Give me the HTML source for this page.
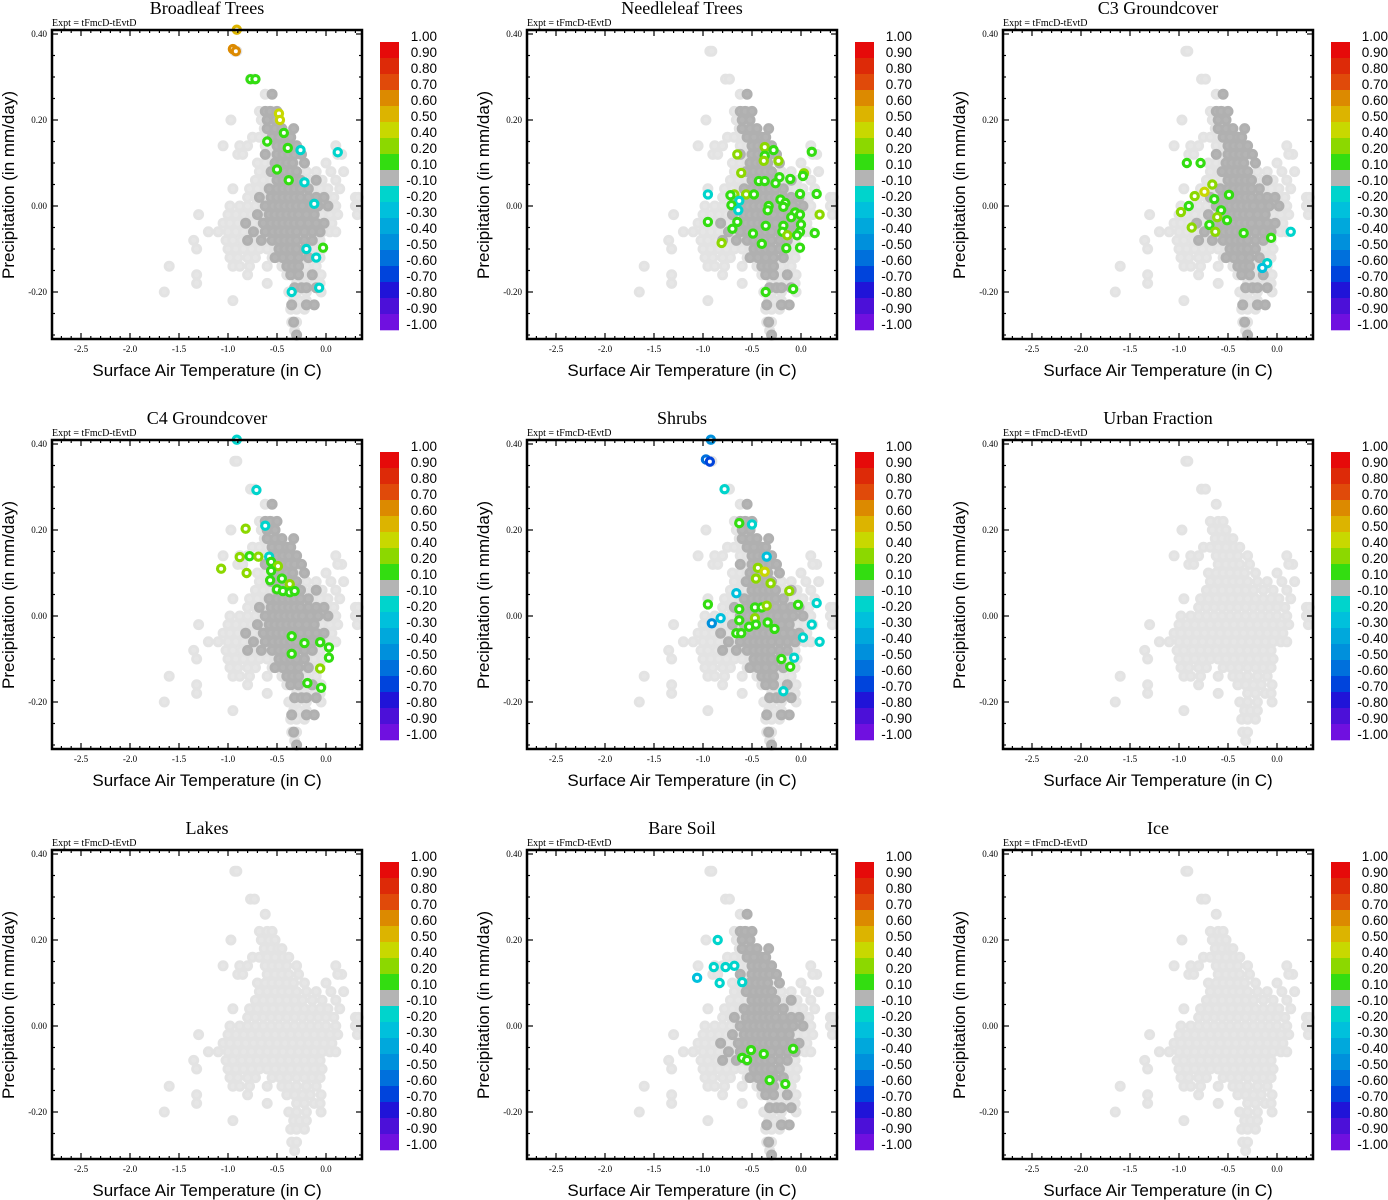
<!DOCTYPE html>
<html><head><meta charset="utf-8"><style>
html,body{margin:0;padding:0;background:#fff;}
svg{display:block;}
.t{font-family:"Liberation Serif",serif;}
.s{font-family:"Liberation Sans",sans-serif;}
</style></head><body>
<svg id="fig" xmlns="http://www.w3.org/2000/svg" width="1388" height="1200" viewBox="0 0 1388 1200"></svg>
<script>
// ---- data ----
const panelTitles = ["Broadleaf Trees","Needleleaf Trees","C3 Groundcover","C4 Groundcover","Shrubs","Urban Fraction","Lakes","Bare Soil","Ice"];
const xTicks = [-2.5,-2.0,-1.5,-1.0,-0.5,0.0];
const xTickLabels = ["-2.5","-2.0","-1.5","-1.0","-0.5","0.0"];
const yTicks = [0.4,0.2,0.0,-0.2];
const yTickLabels = ["0.40","0.20","0.00","-0.20"];
const cbLabels = ["1.00","0.90","0.80","0.70","0.60","0.50","0.40","0.20","0.10","-0.10","-0.20","-0.30","-0.40","-0.50","-0.60","-0.70","-0.80","-0.90","-1.00"];
const cbLevels = [1,0.9,0.8,0.7,0.6,0.5,0.4,0.2,0.1,-0.1,-0.2,-0.3,-0.4,-0.5,-0.6,-0.7,-0.8,-0.9,-1];
const cbColors = ["#e60a0a","#dd2a08","#e04a0a","#dc8a00","#dcb400","#c8d800","#8cd800","#33dd11","#b4b4b4","#00d4cc","#00c0dc","#00a8dc","#0090dc","#0070dc","#0044dc","#2014d8","#4c10d8","#7010e0"];
// shared background cloud: [y, [x...]]
const baseRows = [
[0.36,[-0.93,-0.91]],[0.295,[-0.77,-0.73]],[0.26,[-0.62]],[0.22,[-0.68,-0.6,-0.55]],
[0.20,[-0.97,-0.66,-0.58,-0.52]],[0.18,[-0.63,-0.56,-0.49,-0.45]],
[0.16,[-0.75,-0.68,-0.6,-0.52,-0.44,-0.38]],
[0.14,[-1.05,-0.88,-0.8,-0.62,-0.55,-0.48,-0.4,-0.3,0.1]],
[0.12,[-0.9,-0.85,-0.6,-0.52,-0.45,-0.38,-0.28,0.16,0.12]],
[0.10,[-0.7,-0.62,-0.55,-0.48,-0.4,-0.33,-0.22,0.0]],
[0.08,[-0.68,-0.6,-0.52,-0.45,-0.38,-0.3,-0.2,-0.1,0.05,0.18]],
[0.06,[-0.72,-0.64,-0.56,-0.48,-0.4,-0.32,-0.24,-0.14,-0.04,0.1]],
[0.04,[-0.95,-0.78,-0.7,-0.62,-0.54,-0.46,-0.38,-0.3,-0.22,-0.14,-0.06,0.02,0.14]],
[0.02,[-0.8,-0.72,-0.64,-0.56,-0.48,-0.4,-0.32,-0.24,-0.16,-0.08,0.0,0.08,0.3,0.33]],
[0.00,[-0.98,-0.88,-0.8,-0.72,-0.64,-0.56,-0.48,-0.4,-0.32,-0.24,-0.16,-0.08,0.0,0.1,0.3]],
[-0.02,[-1.3,-1.0,-0.92,-0.84,-0.76,-0.68,-0.6,-0.52,-0.44,-0.36,-0.28,-0.2,-0.12,-0.04,0.04,0.12,0.32]],
[-0.04,[-1.05,-0.98,-0.9,-0.82,-0.74,-0.66,-0.58,-0.5,-0.42,-0.34,-0.26,-0.18,-0.1,-0.02,0.06]],
[-0.06,[-1.2,-1.1,-1.0,-0.92,-0.84,-0.76,-0.68,-0.6,-0.52,-0.44,-0.36,-0.28,-0.2,-0.12,-0.04,0.04,0.1]],
[-0.08,[-1.35,-1.02,-0.95,-0.86,-0.78,-0.7,-0.62,-0.54,-0.46,-0.38,-0.3,-0.22,-0.14,-0.06]],
[-0.10,[-1.32,-1.0,-0.92,-0.84,-0.76,-0.68,-0.6,-0.52,-0.44,-0.36,-0.28,-0.2,-0.12,-0.04]],
[-0.12,[-0.98,-0.9,-0.8,-0.72,-0.55,-0.47,-0.39,-0.3,-0.22,-0.14,-0.06]],
[-0.14,[-1.6,-0.95,-0.88,-0.78,-0.6,-0.45,-0.38,-0.3,-0.2,-0.1]],
[-0.16,[-1.32,-0.8,-0.4,-0.32,-0.24,-0.16,-0.05]],
[-0.18,[-1.32,-0.6,-0.3,-0.22,-0.12,-0.06]],
[-0.20,[-1.65,-0.38,-0.3,-0.2,-0.05]],
[-0.22,[-0.95,-0.33,-0.27,-0.2]],
[-0.24,[-0.36,-0.3,-0.22]],[-0.27,[-0.35,-0.3]],[-0.29,[-0.32]]
];
// darker gray subset (|corr| < 0.1)
const coreRows = [
[0.26,[-0.55]],[0.22,[-0.62,-0.57,-0.5]],[0.20,[-0.6,-0.52]],[0.18,[-0.6,-0.52,-0.45,-0.33]],
[0.16,[-0.55,-0.48,-0.4,-0.36]],[0.14,[-0.5,-0.44,-0.38,-0.3]],
[0.12,[-0.62,-0.5,-0.44,-0.38,-0.32,-0.25]],[0.10,[-0.52,-0.46,-0.4,-0.34,-0.22]],
[0.08,[-0.56,-0.48,-0.42,-0.36,-0.3]],[0.06,[-0.5,-0.44,-0.38,-0.32,-0.26,-0.1]],
[0.04,[-0.58,-0.5,-0.44,-0.38,-0.32,-0.26,-0.18]],
[0.02,[-0.68,-0.56,-0.5,-0.44,-0.38,-0.32,-0.26,-0.18,-0.1,-0.02]],
[0.00,[-0.62,-0.54,-0.48,-0.42,-0.36,-0.3,-0.24,-0.16,-0.08,0.02]],
[-0.02,[-0.7,-0.58,-0.52,-0.46,-0.4,-0.34,-0.28,-0.2,-0.12]],
[-0.04,[-0.82,-0.64,-0.56,-0.5,-0.44,-0.38,-0.32,-0.26,-0.18,-0.1,-0.02]],
[-0.06,[-0.74,-0.62,-0.54,-0.48,-0.42,-0.36,-0.3,-0.22,-0.14,-0.06]],
[-0.08,[-0.8,-0.66,-0.55,-0.48,-0.42,-0.36,-0.3,-0.22,-0.14]],
[-0.10,[-0.48,-0.42,-0.36,-0.3,-0.22]],[-0.12,[-0.52,-0.44,-0.36,-0.28,-0.18]],
[-0.14,[-0.4,-0.34,-0.28]],[-0.16,[-0.36,-0.28,-0.14]],[-0.19,[-0.32,-0.25,-0.2,-0.1]],
[-0.23,[-0.35,-0.2,-0.12]],[-0.27,[-0.33]],[-0.30,[-0.3]]
];
const panelHasCore = [true,true,true,true,true,false,false,true,false];
// colored points [x, y, value]
const colBroadleaf = [[-0.91,0.41,0.55],[-0.95,0.365,0.65],[-0.92,0.36,0.65],[-0.77,0.295,0.15],[-0.72,0.295,0.15],[-0.48,0.215,0.45],[-0.47,0.2,0.45],[-0.43,0.17,0.15],[-0.6,0.15,0.15],[-0.39,0.135,0.15],[-0.26,0.13,-0.15],[0.12,0.125,-0.15],[-0.5,0.085,0.15],[-0.38,0.06,0.15],[-0.22,0.055,-0.15],[-0.12,0.005,-0.15],[-0.2,-0.1,-0.15],[-0.03,-0.097,0.15],[-0.1,-0.12,-0.15],[-0.35,-0.2,-0.15],[-0.07,-0.19,-0.15]];
const colNeedleleaf = [[-0.37,0.137,0.3],[-0.28,0.13,0.15],[-0.65,0.12,0.3],[-0.37,0.117,0.15],[-0.38,0.105,0.3],[-0.23,0.105,0.3],[0.11,0.126,0.15],[-0.61,0.077,0.3],[-0.22,0.067,0.15],[-0.11,0.063,0.15],[0.03,0.076,0.3],[0.02,0.07,0.15],[-0.43,0.058,0.15],[-0.37,0.058,0.15],[-0.26,0.053,0.15],[-0.95,0.027,-0.15],[-0.68,0.027,0.3],[-0.56,0.027,0.3],[-0.72,0.025,0.15],[-0.48,0.027,0.15],[-0.01,0.028,0.15],[0.16,0.028,0.15],[-0.63,0.012,-0.15],[-0.21,0.015,0.15],[-0.16,0.007,0.15],[-0.71,0.002,0.15],[-0.33,0.0,0.15],[-0.64,-0.01,-0.15],[-0.18,-0.002,0.15],[-0.34,-0.01,0.15],[-0.06,-0.015,0.15],[-0.1,-0.026,0.15],[-0.01,-0.02,0.15],[0.19,-0.02,0.3],[-0.95,-0.037,0.15],[-0.65,-0.037,0.15],[-0.36,-0.046,0.15],[-0.18,-0.046,0.15],[0.0,-0.043,0.15],[-0.7,-0.053,0.15],[-0.19,-0.06,0.15],[-0.01,-0.06,0.15],[-0.49,-0.064,0.15],[-0.14,-0.068,0.3],[-0.04,-0.068,0.15],[0.14,-0.063,0.15],[-0.4,-0.088,0.15],[-0.81,-0.086,0.3],[-0.15,-0.098,0.15],[-0.01,-0.097,0.15],[-0.36,-0.2,0.15],[-0.08,-0.193,0.15]];
const colC3 = [[-0.92,0.1,0.15],[-0.78,0.1,0.15],[-0.66,0.05,0.3],[-0.74,0.033,0.45],[-0.84,0.023,0.3],[-0.98,-0.014,0.3],[-0.9,0.0,0.15],[-0.64,0.016,0.15],[-0.57,-0.01,0.15],[-0.61,-0.026,0.3],[-0.51,-0.033,0.15],[-0.69,-0.044,0.15],[-0.87,-0.05,0.3],[-0.63,-0.06,0.3],[-0.34,-0.063,0.15],[-0.49,0.026,0.15],[-0.06,-0.074,0.15],[0.14,-0.06,-0.15],[-0.1,-0.133,-0.15],[-0.15,-0.144,-0.25]];
const colC4 = [[-0.91,0.41,-0.15],[-0.71,0.293,-0.15],[-0.62,0.21,-0.15],[-0.82,0.203,0.3],[-0.88,0.137,0.3],[-0.78,0.139,0.15],[-0.69,0.138,0.3],[-0.58,0.138,-0.15],[-1.07,0.11,0.3],[-0.81,0.1,0.3],[-0.56,0.126,0.15],[-0.49,0.116,0.3],[-0.56,0.105,0.15],[-0.57,0.083,0.15],[-0.45,0.087,0.15],[-0.37,0.074,0.3],[-0.5,0.062,0.15],[-0.44,0.058,0.15],[-0.37,0.055,0.15],[-0.32,0.058,0.15],[-0.35,-0.047,0.15],[-0.22,-0.063,0.15],[-0.06,-0.061,0.15],[-0.35,-0.088,0.15],[0.03,-0.073,0.15],[0.03,-0.097,0.15],[-0.06,-0.122,0.3],[-0.19,-0.156,0.15],[-0.05,-0.167,0.15]];
const colShrubs = [[-0.92,0.41,-0.45],[-0.97,0.364,-0.55],[-0.93,0.359,-0.65],[-0.78,0.295,-0.15],[-0.63,0.216,0.15],[-0.5,0.213,-0.15],[-0.35,0.138,-0.25],[-0.44,0.112,0.3],[-0.37,0.103,0.45],[-0.46,0.087,0.3],[-0.31,0.076,0.3],[-0.12,0.058,0.3],[-0.66,0.053,-0.25],[-0.95,0.027,0.15],[-0.63,0.016,0.15],[-0.47,0.02,0.15],[-0.4,0.02,0.15],[-0.35,0.024,0.3],[-0.03,0.026,0.15],[0.16,0.03,-0.15],[-0.82,-0.005,-0.25],[-0.63,-0.01,0.15],[-0.47,-0.005,0.3],[-0.46,-0.02,0.15],[-0.34,-0.015,0.15],[-0.53,-0.025,0.15],[-0.27,-0.03,0.15],[-0.66,-0.04,0.15],[-0.61,-0.04,0.15],[-0.91,-0.017,-0.45],[0.11,-0.02,-0.15],[0.19,-0.06,-0.15],[0.02,-0.05,-0.15],[-0.2,-0.1,0.15],[-0.11,-0.118,0.15],[-0.07,-0.097,-0.15],[-0.18,-0.175,-0.15]];
const colBareSoil = [[-0.85,0.2,-0.15],[-1.06,0.112,-0.25],[-0.89,0.137,-0.15],[-0.77,0.137,-0.15],[-0.68,0.14,-0.15],[-0.83,0.1,-0.15],[-0.6,0.102,-0.15],[-0.6,-0.074,0.15],[-0.55,-0.079,0.15],[-0.51,-0.056,0.15],[-0.38,-0.065,0.15],[-0.08,-0.053,0.15],[-0.32,-0.126,0.15],[-0.16,-0.135,0.15]];
const panelColored = [colBroadleaf,colNeedleleaf,colC3,colC4,colShrubs,[],[],colBareSoil,[]];

// ---- drawing ----
const NS="http://www.w3.org/2000/svg";
const svg=document.getElementById('fig');
const colX=[0,475,951], rowY=[0,410,820];
function mk(tag,attrs,parent){const e=document.createElementNS(NS,tag);for(const k in attrs)e.setAttribute(k,attrs[k]);(parent||svg).appendChild(e);return e;}
function colorFor(v){for(let k=0;k<cbColors.length;k++){if(v<=cbLevels[k]&&v>=cbLevels[k+1])return cbColors[k];}return cbColors[8];}

panelTitles.forEach((title,p)=>{
  const ox=colX[p%3], oy=rowY[Math.floor(p/3)];
  const xs=c=>ox+326+98*c, ys=v=>oy+206-430*v;
  const g=mk('g',{});
  
  
  const t=mk('text',{x:ox+207,y:oy+14,'text-anchor':'middle','font-size':18,class:'t'},g);t.textContent=title;
  
  
  const ex=mk('text',{x:ox+52,y:oy+26,'font-size':10,class:'t'},g);ex.textContent='Expt = tFmcD-tEvtD';
  
  
  const pts=mk('g',{},g);
  
  
  baseRows.forEach(r=>r[1].forEach(x=>{
    const c=mk('circle',{cx:xs(x),cy:ys(r[0]),r:4,fill:'#e6e6e6',stroke:'#e3e3e3','stroke-width':3},pts);
    
    
  }));
  if(panelHasCore[p]) coreRows.forEach(r=>r[1].forEach(x=>{
    const c=mk('circle',{cx:xs(x),cy:ys(r[0]),r:4,fill:'#b4b4b4',stroke:'#b0b0b0','stroke-width':3},pts);
    
    
  }));
  panelColored[p].forEach(d=>{
    const c=mk('circle',{cx:xs(d[0]),cy:ys(d[1]),r:3.6,fill:'#ffffff',stroke:colorFor(d[2]),'stroke-width':3.2},pts);
    
    
  });
  const fr=mk('rect',{x:ox+52,y:oy+30,width:310,height:309,fill:'none',stroke:'#000','stroke-width':2.5},g);
  
  
  for(let i=-27;i<=3;i++){const c=i/10,x=xs(c);const L=(i%5===0)?6:3;
    mk('line',{x1:x,x2:x,y1:oy+339,y2:oy+339-L,stroke:'#000','stroke-width':1.2},g);
    mk('line',{x1:x,x2:x,y1:oy+30,y2:oy+30+L,stroke:'#000','stroke-width':1.2},g);}
  for(let i=-6;i<=8;i++){const v=i*0.05,y=ys(v);const L=(i%4===0)?6:3;
    mk('line',{x1:ox+52,x2:ox+52+L,y1:y,y2:y,stroke:'#000','stroke-width':1.2},g);
    mk('line',{x1:ox+362,x2:ox+362-L,y1:y,y2:y,stroke:'#000','stroke-width':1.2},g);}
  xTicks.forEach((c,i)=>{const tx=mk('text',{x:xs(c),y:oy+352,'text-anchor':'middle','font-size':9,class:'t'},g);tx.textContent=xTickLabels[i];
    
    });
  yTicks.forEach((v,i)=>{const ty=mk('text',{x:ox+47,y:ys(v)+3,'text-anchor':'end','font-size':9,class:'t'},g);ty.textContent=yTickLabels[i];
    
    });
  const xl=mk('text',{x:ox+207,y:oy+376,'text-anchor':'middle','font-size':17,class:'s'},g);xl.textContent='Surface Air Temperature (in C)';
  
  
  const yl=mk('text',{x:0,y:0,'text-anchor':'middle','font-size':17,class:'s',transform:`translate(${ox+14},${oy+185}) rotate(-90)`},g);yl.textContent='Precipitation (in mm/day)';
  
  
  const cb=mk('g',{},g);
  
  
  cbColors.forEach((col,k)=>{const r=mk('rect',{x:ox+380,y:oy+42+16*k,width:19,height:16.3,fill:col},cb);
    
    });
  cbLabels.forEach((lab,k)=>{const tl=mk('text',{x:ox+437,y:oy+41+16*k,'text-anchor':'end','font-size':13.5,class:'s'},cb);tl.textContent=lab;
    
    });
});
</script>
</body></html>
